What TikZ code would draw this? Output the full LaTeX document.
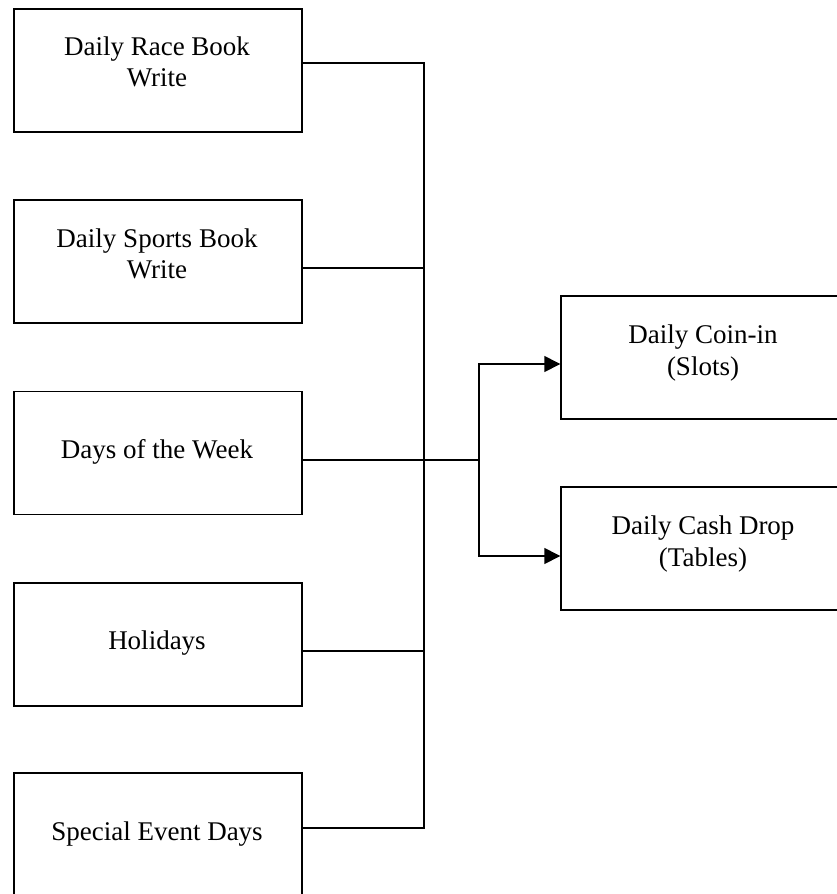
\documentclass[tikz,border=0pt]{standalone}
\usepackage{fontspec}
\setmainfont{Liberation Serif}
\usetikzlibrary{arrows.meta}
\begin{document}
\begin{tikzpicture}[x=1pt,y=-1pt,
  box/.style={draw, line width=1.4pt, minimum width=288pt, minimum height=123pt, inner sep=0pt},
  lbl/.style={anchor=base, inner sep=0pt, font=\fontsize{27}{31}\selectfont},
  wire/.style={line width=1.4pt},
  arr/.style={line width=1.4pt, -{Triangle[length=16pt,width=16pt]}}]
\clip (0,0) rectangle (837,894);
\fill[white] (0,0) rectangle (837,894);
% left boxes
\node[box] (b1) at (158,70.5) {};
\node[box] (b2) at (158,261.5) {};
\node[box] (b3) at (158,453) {};
\node[box] (b4) at (158,644.5) {};
\node[box] (b5) at (158,834.5) {};
% right boxes
\node[box] (r1) at (705,357.5) {};
\node[box] (r2) at (705,548.5) {};
% texts
\node[lbl] (t1a) at (157,55) {Daily Race Book};
\node[lbl] (t1b) at (157,86) {Write};
\node[lbl] (t2a) at (157,247) {Daily Sports Book};
\node[lbl] (t2b) at (157,278) {Write};
\node[lbl] (t3) at (157,458) {Days of the Week};
\node[lbl] (t4) at (157,649) {Holidays};
\node[lbl] (t5) at (157,840) {Special Event Days};
\node[lbl] (u1a) at (703,343) {Daily Coin-in};
\node[lbl] (u1b) at (703,375) {(Slots)};
\node[lbl] (u2a) at (703,534) {Daily Cash Drop};
\node[lbl] (u2b) at (703,566) {(Tables)};
% connectors
\coordinate (jb) at (424,828);
\coordinate (fork) at (479,460);
\draw[wire] ([yshift=7.5pt]b1.east) -| (jb) -- ([yshift=6.5pt]b5.east);
\draw[wire] ([yshift=-6.5pt]b2.east) -- ++(122,0);
\draw[wire] ([yshift=-6.5pt]b4.east) -- ++(122,0);
\draw[wire] ([yshift=-7pt]b3.east) -- (fork);
\draw[arr] (fork) |- ([yshift=-6.5pt]r1.west);
\draw[arr] (fork) |- ([yshift=-7.5pt]r2.west);
\end{tikzpicture}
\end{document}
